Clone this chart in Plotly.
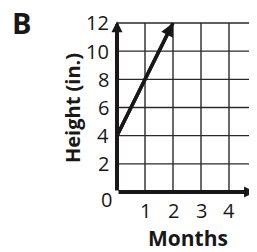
import plotly.graph_objects as go

# ---- data ----
months = [0, 2]
height = [4, 12]
x_ticks = [1, 2, 3, 4]
y_ticks = [0, 2, 4, 6, 8, 10, 12]
x_grid = [1, 2, 3, 4, 5]
y_grid = [2, 4, 6, 8, 10, 12]

# ---- style ----
OFF = 8                 # page body margin
W, H = 257 - OFF, 252 - OFF
INK = "#1a1718"
FONT = "Open Sans"
X_RANGE = [-0.2, 5.0]
Y_RANGE = [-0.3, 12.5]
X_AXIS_END = 4.93
Y_AXIS_END = 12.12


def px(x):  # reference x pixel -> paper
    return (x - OFF) / W


def py(y):  # reference y pixel -> paper
    return 1 - (y - OFF) / H


fig = go.Figure()

# grid lines
gx, gy = [], []
for v in x_grid:
    gx += [v, v, None]
    gy += [0, 12, None]
for v in y_grid:
    gx += [0, 5.0, None]
    gy += [v, v, None]
fig.add_trace(go.Scatter(x=gx, y=gy, mode="lines",
                         line=dict(color="#2a2a2a", width=1.4),
                         hoverinfo="skip", showlegend=False))

# data line
fig.add_trace(go.Scatter(x=months, y=height, mode="lines",
                         line=dict(color=INK, width=3.5),
                         cliponaxis=False, hoverinfo="skip", showlegend=False))

ann = []


def arrow(x0, y0, x1, y1, width, size):
    return dict(x=x1, y=y1, ax=x0, ay=y0, xref="x", yref="y", axref="x", ayref="y",
                text="", showarrow=True, arrowhead=2, arrowsize=size,
                arrowwidth=width, arrowcolor=INK, standoff=0, startstandoff=0)


# axes with arrows
ann.append(arrow(0, 0, X_AXIS_END, 0, 4, 0.55))
ann.append(arrow(0, 0, 0, Y_AXIS_END, 4, 0.55))
# arrow head on the data line
ann.append(arrow(months[0], height[0], months[-1], height[-1], 3.5, 0.75))

tick_font = dict(family=FONT, size=20, color=INK)
for v in y_ticks:
    if v == 0:
        ann.append(dict(x=0, y=v, xref="x", yref="y", text=str(v), showarrow=False,
                        xanchor="right", yanchor="middle", xshift=-3, yshift=-8,
                        font=tick_font))
    else:
        ann.append(dict(x=0, y=v, xref="x", yref="y", text=str(v), showarrow=False,
                        xanchor="right", yanchor="middle", xshift=-6,
                        font=tick_font))
for v in x_ticks:
    ann.append(dict(x=v, y=0, xref="x", yref="y", text=str(v), showarrow=False,
                    xanchor="center", yanchor="middle", yshift=-19,
                    font=tick_font))

ann.append(dict(x=px(188), y=py(238), xref="paper", yref="paper", text="<b>Months</b>",
                showarrow=False, xanchor="center", yanchor="middle",
                font=dict(family=FONT, size=21, color=INK)))
ann.append(dict(x=px(72), y=py(108), xref="paper", yref="paper", text="<b>Height (in.)</b>",
                showarrow=False, xanchor="center", yanchor="middle", textangle=-90,
                font=dict(family=FONT, size=20, color=INK)))
ann.append(dict(x=px(21), y=py(22), xref="paper", yref="paper", text="<b>B</b>",
                showarrow=False, xanchor="center", yanchor="middle",
                height=28, valign="middle",
                font=dict(family=FONT, size=29, color=INK)))

px_per_x = 28.0
px_per_y = (192 - 23) / 12.0
x0_px = 117 + X_RANGE[0] * px_per_x
x1_px = 117 + X_RANGE[1] * px_per_x
y0_px = 192 - Y_RANGE[0] * px_per_y
y1_px = 192 - Y_RANGE[1] * px_per_y

fig.update_layout(
    width=W, height=H,
    margin=dict(l=0, r=0, t=0, b=0),
    paper_bgcolor="white", plot_bgcolor="white",
    xaxis=dict(range=X_RANGE, domain=[px(x0_px), min(1.0, px(x1_px))],
               showgrid=False, zeroline=False, showticklabels=False, showline=False),
    yaxis=dict(range=Y_RANGE, domain=[py(y0_px), py(y1_px)],
               showgrid=False, zeroline=False, showticklabels=False, showline=False),
    annotations=ann,
    showlegend=False,
)

fig.write_html("out.html")
